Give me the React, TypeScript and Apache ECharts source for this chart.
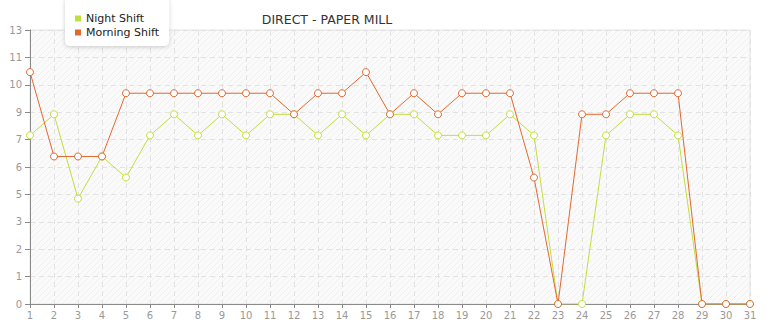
import React, { useEffect, useRef } from "react";
import * as echarts from "echarts";

const days = Array.from({ length: 31 }, (_, i) => String(i + 1));
const nightShift = [8, 9, 5, 7, 6, 8, 9, 8, 9, 8, 9, 9, 8, 9, 8, 9, 9, 8, 8, 8, 9, 8, 0, 0, 8, 9, 9, 8, 0, 0, 0];
const morningShift = [11, 7, 7, 7, 10, 10, 10, 10, 10, 10, 10, 9, 10, 10, 11, 9, 10, 9, 10, 10, 10, 6, 0, 9, 9, 10, 10, 10, 0, 0, 0];
const seriesNames = ["Night Shift", "Morning Shift"];
const titleText = "DIRECT - PAPER MILL";

const GREEN = "#c3de3c";
const ORANGE = "#e2682f";

const hatch =
  "data:image/svg+xml;utf8," +
  encodeURIComponent(
    '<svg xmlns="http://www.w3.org/2000/svg" width="6" height="6"><rect width="6" height="6" fill="#fafafa"/><path d="M-1,7 L7,-1 M-1,1 L1,-1 M5,7 L7,5" stroke="#f0f0f0" stroke-width="1"/></svg>'
  );

export default function App() {
  const ref = useRef<HTMLDivElement>(null);
  useEffect(() => {
    if (!ref.current) return;
    const chart = echarts.init(ref.current, undefined, { renderer: "svg" });
    const img = new Image();
    img.src = hatch;
    chart.setOption({
      animation: false,
      textStyle: { fontFamily: "DejaVu Sans" },
      title: {
        text: titleText,
        left: 322,
        textAlign: "center",
        top: 8,
        textStyle: { fontSize: 12.5, fontWeight: "normal", color: "#333", fontFamily: "DejaVu Sans" },
      },
      legend: {
        orient: "vertical",
        left: 65,
        top: -3,
        padding: [16, 10, 8, 10],
        itemGap: 3,
        itemWidth: 6,
        itemHeight: 6,
        icon: "rect",
        backgroundColor: "#fff",
        borderRadius: 5,
        shadowBlur: 4,
        shadowColor: "rgba(0,0,0,0.2)",
        shadowOffsetY: 1,
        textStyle: { fontSize: 11, color: "#222", padding: [0, 0, 0, 0] },
        data: [
          { name: seriesNames[0], itemStyle: { color: GREEN, borderWidth: 0 } },
          { name: seriesNames[1], itemStyle: { color: ORANGE, borderWidth: 0 } },
        ],
      },
      grid: {
        left: 30,
        right: 15,
        top: 30,
        bottom: 15,
        show: true,
        backgroundColor: { image: img, repeat: "repeat" },
        borderColor: "#e4e4e4",
        borderWidth: 1,
      },
      xAxis: {
        type: "category",
        data: days,
        boundaryGap: false,
        axisLine: { lineStyle: { color: "#8a8a8a" } },
        axisTick: { show: true, length: 4, lineStyle: { color: "#8a8a8a" } },
        axisLabel: { color: "#999", fontSize: 10, margin: 6, interval: 0 },
        splitLine: { show: true, lineStyle: { color: "#e2e2e2", type: [5, 4] } },
      },
      yAxis: {
        type: "value",
        min: 0,
        max: 13,
        interval: 1.3,
        axisLine: { show: true, lineStyle: { color: "#8a8a8a" } },
        axisTick: { show: true, length: 5, lineStyle: { color: "#8a8a8a" } },
        axisLabel: {
          color: "#999",
          fontSize: 10,
          margin: 8,
          formatter: (v: number) => String(Math.floor(v + 1e-9)),
        },
        splitLine: { show: true, lineStyle: { color: "#e2e2e2", type: [5, 4] } },
      },
      series: [
        {
          name: seriesNames[0],
          type: "line",
          data: nightShift,
          color: GREEN,
          symbol: "circle",
          symbolSize: 7,
          lineStyle: { width: 1, color: GREEN },
          itemStyle: { color: "#fff", borderColor: GREEN, borderWidth: 1 },
        },
        {
          name: seriesNames[1],
          type: "line",
          data: morningShift,
          color: ORANGE,
          symbol: "circle",
          symbolSize: 7,
          lineStyle: { width: 1, color: ORANGE },
          itemStyle: { color: "#fff", borderColor: ORANGE, borderWidth: 1 },
        },
      ],
    });
    return () => chart.dispose();
  }, []);
  return <div ref={ref} style={{ width: 765, height: 320, position: "absolute", left: 0, top: 0 }} />;
}
